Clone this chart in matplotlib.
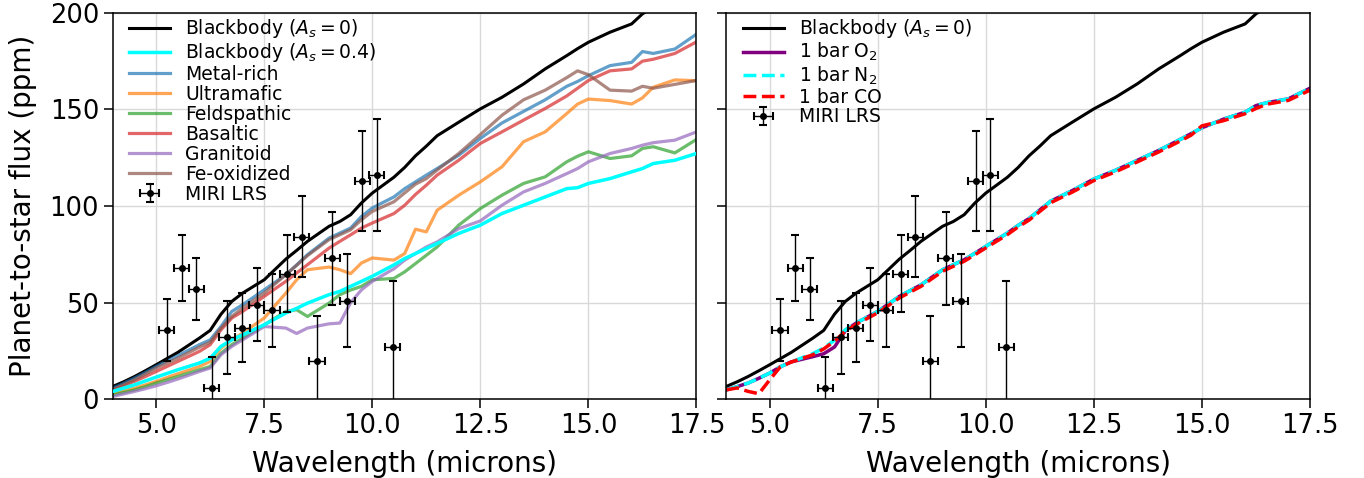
import numpy as np
import matplotlib
matplotlib.use("Agg")
import matplotlib.pyplot as plt

# wavelength grid (microns) shared by all model curves
wl = [4.0, 4.25, 4.5, 4.75, 5.0, 5.25, 5.5, 6.0, 6.25, 6.5, 6.75, 7.0, 7.5, 8.0, 8.25, 8.5,
      9.0, 9.25, 9.5, 9.75, 10.0, 10.5, 10.75, 11.0, 11.25, 11.5, 12.0, 12.5, 13.0, 13.5,
      14.0, 14.5, 14.75, 15.0, 15.5, 16.0, 16.25, 16.5, 17.0, 17.5]

bb0 = [6.6, 9.0, 11.7, 14.7, 17.8, 21.0, 24.2, 31.6, 35.6, 44.0, 50.6, 54.9, 61.8, 72.5, 77.0, 81.7,
       89.5, 92.0, 95.5, 101.6, 106.7, 114.9, 120.0, 126.0, 131.0, 136.4, 143.4, 150.3, 156.3, 163.2,
       171.0, 177.9, 181.5, 184.8, 190.0, 194.3, 199.5, 203.0, 209.0, 215.0]
bb04 = [4.0, 5.7, 7.4, 9.4, 11.4, 13.3, 15.2, 18.7, 21.2, 27.3, 30.7, 33.3, 38.5, 44.6, 47.0, 49.7,
        54.1, 55.8, 58.4, 61.0, 63.6, 69.5, 72.8, 75.4, 78.0, 80.6, 85.8, 90.1, 96.1, 100.4,
        104.7, 109.0, 109.5, 111.7, 114.2, 117.7, 119.4, 122.0, 123.7, 127.2]
metal_rich = [5.7, 8.2, 10.9, 13.8, 16.9, 19.7, 22.5, 28.2, 30.7, 37.6, 45.4, 48.9, 56.6, 64.4, 69.5, 74.8,
              83.4, 86.0, 88.6, 94.6, 99.0, 104.7, 109.0, 112.5, 116.0, 119.4, 126.3, 135.0, 143.0, 149.0,
              155.0, 162.0, 164.5, 167.5, 172.7, 174.4, 180.0, 179.0, 181.3, 189.0]
ultramafic = [3.1, 4.4, 5.7, 7.4, 9.2, 11.2, 13.1, 16.9, 19.5, 26.4, 30.7, 34.2, 42.0, 54.9, 61.8, 67.0,
              68.4, 67.0, 65.0, 70.5, 73.1, 72.0, 75.4, 88.0, 86.6, 97.8, 105.6, 112.5, 120.3, 133.3,
              138.4, 147.9, 152.8, 155.4, 154.6, 152.8, 156.0, 161.5, 165.3, 164.9]
feldspathic = [2.2, 3.5, 4.8, 6.5, 8.3, 10.0, 11.7, 15.2, 16.9, 23.8, 28.2, 31.6, 38.5, 45.4, 46.3, 42.8,
               49.7, 54.1, 56.5, 58.4, 61.8, 62.5, 65.9, 70.2, 74.5, 78.8, 90.1, 98.7, 105.6, 111.7,
               115.1, 122.9, 125.8, 128.1, 124.6, 126.0, 129.8, 130.7, 127.5, 134.5]
basaltic = [4.8, 7.0, 9.2, 11.7, 14.3, 16.9, 19.5, 24.7, 28.2, 35.9, 42.0, 45.4, 53.2, 61.0, 65.3, 69.6,
            78.2, 81.7, 85.1, 88.6, 91.2, 96.1, 100.4, 106.0, 110.8, 116.0, 123.7, 132.4, 138.4, 144.5,
            150.5, 157.0, 161.0, 165.0, 170.0, 171.0, 175.0, 176.0, 179.0, 185.0]
granitoid = [1.4, 2.7, 4.0, 5.4, 6.9, 8.6, 10.4, 14.3, 16.1, 23.0, 27.3, 30.7, 37.6, 36.8, 34.0, 36.8,
             39.0, 39.4, 50.0, 56.6, 61.0, 67.5, 72.0, 75.4, 78.8, 81.4, 88.3, 92.3, 100.4, 107.3,
             111.7, 116.8, 119.4, 122.9, 127.2, 129.8, 131.5, 132.8, 134.1, 138.4]
fe_oxidized = [4.8, 7.4, 10.0, 13.0, 16.1, 18.6, 21.2, 26.9, 29.5, 36.8, 42.8, 47.2, 54.9, 64.4, 69.3, 74.3,
               82.6, 85.1, 87.7, 92.9, 97.2, 102.2, 106.8, 111.3, 114.2, 118.6, 127.2, 137.0, 147.0, 155.0,
               160.0, 166.5, 170.0, 168.0, 160.0, 159.5, 162.0, 161.0, 163.0, 165.0]

# atmosphere models (right panel)
n2_1bar = [4.8, 6.5, 8.3, 10.8, 13.5, 16.8, 19.3, 23.6, 26.5, 30.5, 35.9, 39.4, 45.4, 53.2, 56.2, 59.2,
           67.0, 69.6, 72.2, 75.6, 79.1, 86.0, 90.0, 93.5, 98.0, 102.5, 108.0, 114.0, 118.5, 123.6,
           128.8, 134.5, 137.5, 140.5, 145.0, 148.6, 152.0, 153.5, 155.5, 161.0]
o2_1bar = [4.8, 6.5, 8.3, 10.8, 13.5, 16.8, 19.3, 22.0, 23.5, 27.0, 35.5, 39.4, 45.4, 53.2, 56.2, 59.2,
           67.0, 69.6, 72.2, 75.6, 79.1, 86.0, 90.0, 93.5, 98.0, 102.5, 108.0, 114.0, 118.5, 123.6,
           128.8, 134.5, 137.5, 140.5, 145.0, 148.6, 152.0, 153.5, 155.5, 161.0]
co_1bar = [4.8, 5.8, 4.0, 2.8, 10.0, 16.8, 19.2, 23.0, 26.0, 30.0, 35.2, 38.7, 44.7, 52.4, 55.4, 58.4,
           66.2, 68.8, 71.4, 74.8, 78.3, 85.2, 89.2, 92.7, 97.2, 101.7, 107.2, 113.2, 117.7, 122.8,
           128.0, 133.7, 136.7, 141.5, 144.2, 147.8, 150.5, 152.7, 154.7, 160.0]

# MIRI LRS observations
obs_wl = [5.24, 5.59, 5.93, 6.29, 6.64, 6.99, 7.33, 7.68, 8.03, 8.37, 8.72, 9.07, 9.42, 9.77, 10.10, 10.47]
obs_flux = [36, 68, 57, 6, 32, 37, 49, 46, 65, 84, 20, 73, 51, 113, 116, 27]
obs_err = [16, 17, 16, 16, 19, 18, 19, 19, 20, 21, 23, 24, 24, 26, 29, 34]
obs_wl_err = 0.175

plt.rcParams['font.size'] = 18.5
plt.rcParams['axes.linewidth'] = 1.1
plt.rcParams['xtick.major.size'] = 6.5
plt.rcParams['ytick.major.size'] = 6.5
plt.rcParams['xtick.major.width'] = 1.1
plt.rcParams['ytick.major.width'] = 1.1

fig, (ax1, ax2) = plt.subplots(1, 2, figsize=(13.64, 4.78), dpi=100, sharey=True)
plt.subplots_adjust(left=0.0828, right=0.9604, bottom=0.165, top=0.973, wspace=0.0514)

surfaces = [
    ('Metal-rich', metal_rich),
    ('Ultramafic', ultramafic),
    ('Feldspathic', feldspathic),
    ('Basaltic', basaltic),
    ('Granitoid', granitoid),
    ('Fe-oxidized', fe_oxidized),
]

ax1.plot(wl, bb0, color='black', lw=2.2, label=r'Blackbody ($A_s = 0$)')
ax1.plot(wl, bb04, color='cyan', lw=2.5, label=r'Blackbody ($A_s = 0.4$)', zorder=3)
for i, (name, vals) in enumerate(surfaces):
    ax1.plot(wl, vals, color=f'C{i}', lw=2.3, alpha=0.7, label=name)

ax2.plot(wl, bb0, color='black', lw=2.2, label=r'Blackbody ($A_s = 0$)')
ax2.plot(wl, o2_1bar, color='purple', lw=2.5, label=r'1 bar O$_2$')
ax2.plot(wl, n2_1bar, color='cyan', lw=2.5, ls='--', label=r'1 bar N$_2$')
ax2.plot(wl, co_1bar, color='red', lw=2.5, ls='--', label='1 bar CO')

for ax in (ax1, ax2):
    ax.errorbar(obs_wl, obs_flux, yerr=obs_err, xerr=obs_wl_err, fmt='o', color='black',
                ms=4, lw=1, capsize=3, capthick=1.5, label='MIRI LRS', zorder=5)
    ax.set_xlim(4, 17.5)
    ax.set_ylim(0, 200)
    ax.set_xticks([5.0, 7.5, 10.0, 12.5, 15.0, 17.5])
    ax.set_yticks([0, 50, 100, 150, 200])
    ax.grid(color='0.85', lw=1)
    ax.set_axisbelow(True)
    ax.set_xlabel('Wavelength (microns)', fontsize=20, labelpad=8)
    ax.legend(loc='upper left', bbox_to_anchor=(0.005, 1.023), frameon=False, fontsize=13.5,
              labelspacing=0.05, handlelength=2.2, borderaxespad=0.3)

ax1.set_ylabel('Planet-to-star flux (ppm)', fontsize=20, labelpad=9)
ax2.tick_params(labelleft=False)

fig.savefig('out.png', dpi=100)
